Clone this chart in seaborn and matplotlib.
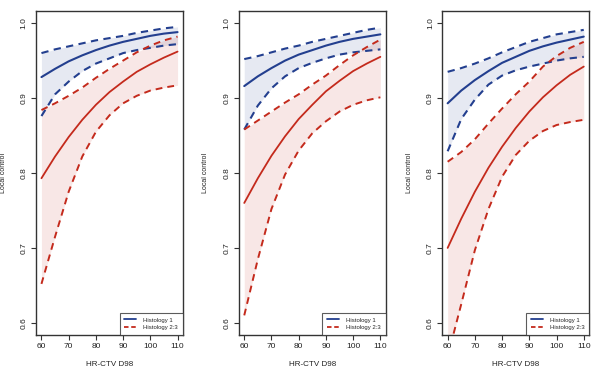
import seaborn as sns
import matplotlib.pyplot as plt
from matplotlib.lines import Line2D

# HR-CTV D98 dose grid
dose = [60, 65, 70, 75, 80, 85, 90, 95, 100, 105, 110]

# panel 1
p1_h1_fit = [0.928, 0.939, 0.949, 0.957, 0.964, 0.970, 0.975, 0.979, 0.983, 0.986, 0.988]
p1_h1_lo = [0.876, 0.905, 0.922, 0.936, 0.946, 0.953, 0.960, 0.964, 0.967, 0.970, 0.972]
p1_h1_hi = [0.960, 0.965, 0.969, 0.973, 0.977, 0.980, 0.983, 0.987, 0.990, 0.993, 0.995]
p1_h23_fit = [0.793, 0.822, 0.848, 0.871, 0.891, 0.908, 0.922, 0.935, 0.945, 0.954, 0.962]
p1_h23_lo = [0.652, 0.715, 0.775, 0.822, 0.855, 0.877, 0.893, 0.903, 0.910, 0.914, 0.917]
p1_h23_hi = [0.884, 0.893, 0.903, 0.914, 0.927, 0.939, 0.950, 0.961, 0.970, 0.977, 0.982]

# panel 2
p2_h1_fit = [0.916, 0.929, 0.940, 0.950, 0.958, 0.964, 0.970, 0.975, 0.979, 0.982, 0.985]
p2_h1_lo = [0.858, 0.890, 0.913, 0.929, 0.940, 0.947, 0.953, 0.958, 0.961, 0.963, 0.965]
p2_h1_hi = [0.952, 0.956, 0.961, 0.966, 0.970, 0.975, 0.979, 0.983, 0.987, 0.991, 0.994]
p2_h23_fit = [0.760, 0.793, 0.823, 0.849, 0.872, 0.891, 0.909, 0.923, 0.936, 0.946, 0.955]
p2_h23_lo = [0.610, 0.685, 0.752, 0.798, 0.830, 0.853, 0.869, 0.882, 0.891, 0.897, 0.901]
p2_h23_hi = [0.858, 0.870, 0.882, 0.894, 0.905, 0.918, 0.930, 0.944, 0.957, 0.968, 0.978]

# panel 3
p3_h1_fit = [0.893, 0.910, 0.924, 0.936, 0.947, 0.955, 0.963, 0.969, 0.974, 0.978, 0.982]
p3_h1_lo = [0.829, 0.872, 0.898, 0.918, 0.930, 0.937, 0.942, 0.946, 0.950, 0.953, 0.955]
p3_h1_hi = [0.935, 0.940, 0.946, 0.953, 0.961, 0.968, 0.975, 0.980, 0.985, 0.988, 0.991]
p3_h23_fit = [0.700, 0.739, 0.775, 0.807, 0.835, 0.860, 0.882, 0.901, 0.917, 0.931, 0.942]
p3_h23_lo = [0.555, 0.625, 0.697, 0.752, 0.795, 0.824, 0.843, 0.856, 0.864, 0.868, 0.871]
p3_h23_hi = [0.815, 0.828, 0.845, 0.866, 0.886, 0.905, 0.922, 0.942, 0.956, 0.967, 0.975]

panels = [
    (p1_h1_fit, p1_h1_lo, p1_h1_hi, p1_h23_fit, p1_h23_lo, p1_h23_hi),
    (p2_h1_fit, p2_h1_lo, p2_h1_hi, p2_h23_fit, p2_h23_lo, p2_h23_hi),
    (p3_h1_fit, p3_h1_lo, p3_h1_hi, p3_h23_fit, p3_h23_lo, p3_h23_hi),
]

blue = '#233f8f'
red = '#c42a1c'
dash = (0, (3.5, 2.6))

sns.set_style("ticks")
plt.rcParams['font.family'] = ['Liberation Sans', 'DejaVu Sans']

fig = plt.figure(figsize=(6, 3.84), dpi=100)
lefts = [0.06, 0.398, 0.737]

for left, (b_fit, b_lo, b_hi, r_fit, r_lo, r_hi) in zip(lefts, panels):
    ax = fig.add_axes([left, 0.128, 0.245, 0.843])

    # confidence bands
    ax.fill_between(dose, b_lo, b_hi, color=blue, alpha=0.11, lw=0)
    ax.fill_between(dose, r_lo, r_hi, color=red, alpha=0.11, lw=0)

    sns.lineplot(x=dose, y=b_hi, color=blue, lw=1.5, linestyle=dash, ax=ax, legend=False)
    sns.lineplot(x=dose, y=b_lo, color=blue, lw=1.5, linestyle=dash, ax=ax, legend=False)
    sns.lineplot(x=dose, y=b_fit, color=blue, lw=1.5, ax=ax, legend=False)
    sns.lineplot(x=dose, y=r_hi, color=red, lw=1.4, linestyle=dash, ax=ax, legend=False)
    sns.lineplot(x=dose, y=r_lo, color=red, lw=1.4, linestyle=dash, ax=ax, legend=False)
    sns.lineplot(x=dose, y=r_fit, color=red, lw=1.3, ax=ax, legend=False)

    ax.set_xlim(58, 112)
    ax.set_ylim(0.584, 1.016)
    ax.set_xticks([60, 70, 80, 90, 100, 110])
    ax.set_yticks([0.6, 0.7, 0.8, 0.9, 1.0])
    ax.set_yticklabels(['0.6', '0.7', '0.8', '0.9', '1.0'], rotation=90, va='center')
    ax.tick_params(axis='both', labelsize=6, length=3.5, width=0.8, color='#333333',
                   labelcolor='#222222', pad=2.5)
    for s in ax.spines.values():
        s.set_color('#333333')
        s.set_linewidth(1.0)

    ax.set_xlabel('HR-CTV D98', fontsize=5.8, color='#222222')
    ax.xaxis.set_label_coords(0.5, -0.08)
    ax.set_ylabel('Local control', fontsize=5, color='#222222')
    ax.yaxis.set_label_coords(-0.2, 0.5)

    handles = [Line2D([], [], color=blue, lw=1.3),
               Line2D([], [], color=red, lw=1.3, linestyle=(0, (2.5, 1.5)))]
    leg = ax.legend(handles, ['Histology 1', 'Histology 2:3'], loc='lower right',
                    fontsize=4.3, frameon=True, fancybox=False, borderaxespad=0,
                    handlelength=2.0, handletextpad=1.2, borderpad=0.8,
                    labelspacing=0.4)
    leg.get_frame().set_edgecolor('#333333')
    leg.get_frame().set_linewidth(0.8)

fig.savefig('out.png', dpi=100)
